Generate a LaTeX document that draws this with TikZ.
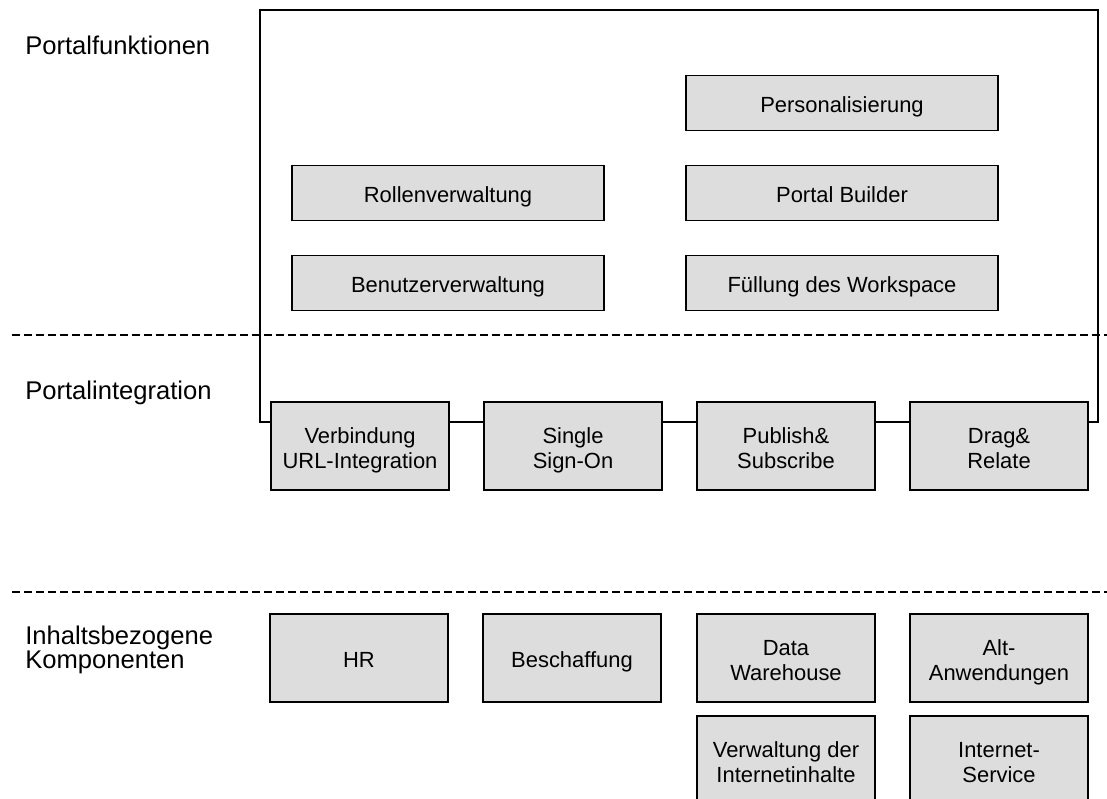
\documentclass[tikz,border=0pt]{standalone}
\usepackage{fontspec}
\setmainfont{Liberation Sans}
\usepackage{tikz}
\usetikzlibrary{positioning}
\definecolor{boxgray}{RGB}{221,221,221}
% fixed line box, so that all box texts sit alike
\newcommand{\boxtext}[1]{\rule{0pt}{0.62cm}#1\rule[-0.125cm]{0pt}{0pt}}

\begin{document}
\begin{tikzpicture}[
    x=0.025cm, y=-0.025cm,
    panel/.style={draw, line width=1.4pt, fill=boxgray, inner sep=2pt, align=center, font=\fontsize{15.6}{17.8}\selectfont},
    wide/.style={panel, minimum width=7.8cm, minimum height=1.375cm},
    small/.style={panel, minimum width=4.45cm, minimum height=2.2cm},
    frame/.style={draw, line width=1.4pt, inner sep=0pt, minimum width=20.95cm, minimum height=10.3cm},
    label/.style={anchor=west, inner sep=0pt, align=left, font=\fontsize{18.2}{17.1}\selectfont},
    divider/.style={line width=1.6pt, dash pattern=on 0.2cm off 0.1cm}
]
\useasboundingbox (0,0) rectangle (1107,798);
\clip (0,0) rectangle (1107,798);

% layer labels
\node[label] (funktionen) at (25,45) {Portalfunktionen};
\node[label] (integration) at (25,393) {Portalintegration};
\node[label] (inhalt) at (25,650) {Inhaltsbezogene\\Komponenten};

% separators
\draw[divider] (12,335) -- (1107,335);
\draw[divider] (12,592) -- (1107,592);

% portal frame
\node[frame] (portal) at (679,216) {};

\node[wide] (pers) at (842,103) {\boxtext{Personalisierung}};
\node[wide] (rollen) at (448,193) {\boxtext{Rollenverwaltung}};
\node[wide] (builder) at (842,193) {\boxtext{Portal Builder}};
\node[wide] (benutzer) at (448,283) {\boxtext{Benutzerverwaltung}};
\node[wide] (fuellung) at (842,283) {\boxtext{Füllung des Workspace}};

% integration on the frame edge
\foreach \x/\id/\name in {360/verb/{Verbindung\\URL-Integration}, 573/sso/{Single\\Sign-On}, 786/pubsub/{Publish\&\\Subscribe}, 999/drag/{Drag\&\\Relate}} {
    \node[small] (\id) at (\x,446) {\boxtext{\name}};
}

% content components
\foreach \x/\id/\name in {359/hr/HR, 572/beschaffung/Beschaffung, 786/dw/{Data\\Warehouse}, 999/alt/{Alt-\\Anwendungen}} {
    \node[small] (\id) at (\x,658) {\boxtext{\name}};
}
\node[small] (inhalte) at (786,760) {\boxtext{Verwaltung der\\Internetinhalte}};
\node[small] (service) at (999,760) {\boxtext{Internet-\\Service}};
\end{tikzpicture}
\end{document}
